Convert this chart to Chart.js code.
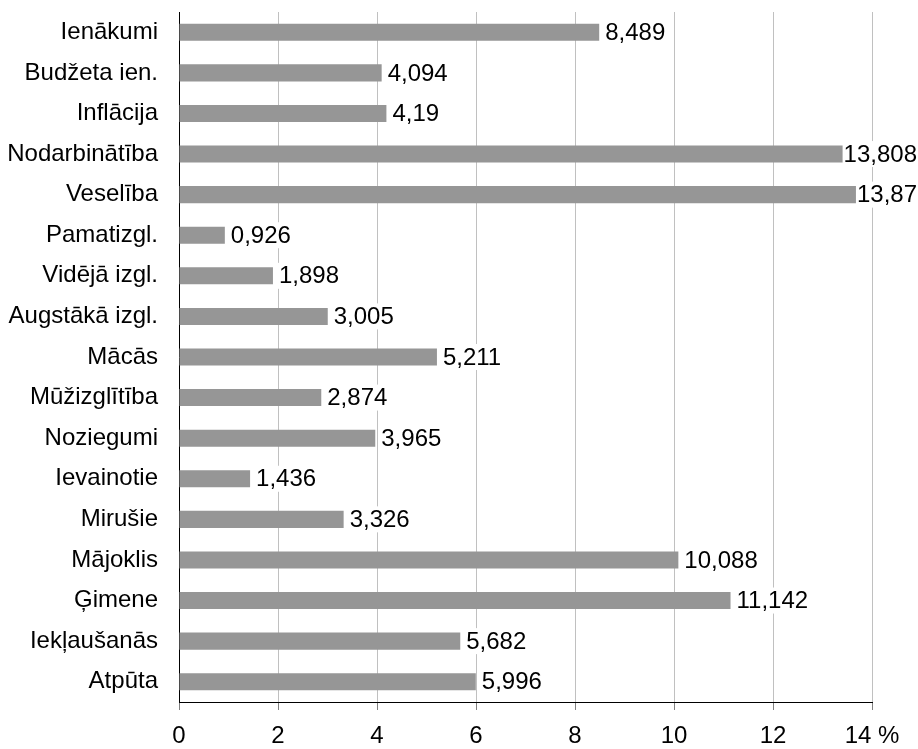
<!DOCTYPE html>
<html><head><meta charset="utf-8">
<script src="https://cdn.jsdelivr.net/npm/chart.js@4/dist/chart.umd.min.js"></script>
<style>html,body{margin:0;padding:0;background:#fff}#wrap{width:918px;height:749px}</style>
</head><body><div id="wrap"><canvas id="c" width="918" height="749"></canvas></div>
<script>
const categories = ['Ienākumi','Budžeta ien.','Inflācija','Nodarbinātība','Veselība','Pamatizgl.','Vidējā izgl.','Augstākā izgl.','Mācās','Mūžizglītība','Noziegumi','Ievainotie','Mirušie','Mājoklis','Ģimene','Iekļaušanās','Atpūta'];
const values = [8.489,4.094,4.19,13.808,13.87,0.926,1.898,3.005,5.211,2.874,3.965,1.436,3.326,10.088,11.142,5.682,5.996];
const tickLabels = ['0','2','4','6','8','10','12','14 %'];

const FONT = 'Liberation Sans, Arial, sans-serif';
const FS = 24;
const labelPlugin = {
  id: 'vals',
  afterDatasetsDraw(chart) {
    const ctx = chart.ctx;
    const meta = chart.getDatasetMeta(0);
    ctx.save();
    ctx.font = FS + 'px ' + FONT;
    ctx.textAlign = 'left';
    ctx.textBaseline = 'middle';
    meta.data.forEach((bar, i) => {
      const txt = String(values[i]).replace('.', ',');
      const w = ctx.measureText(txt).width;
      let x = bar.x + 6;
      if (x + w > chart.width - 1) x = chart.width - 1 - w;
      ctx.fillStyle = '#fff';
      ctx.fillRect(x - 1, bar.y - 13, w + 3, 26);
      ctx.fillStyle = '#000';
      ctx.fillText(txt, x, bar.y + 1);
    });
    ctx.restore();
  }
};

new Chart(document.getElementById('c'), {
  type: 'bar',
  data: { labels: categories, datasets: [{ data: values, backgroundColor: '#969696', borderWidth: 0, categoryPercentage: 1, barPercentage: 0.42 }] },
  options: {
    indexAxis: 'y',
    responsive: false,
    animation: false,
    layout: { padding: { left: 0, right: 46, top: 12, bottom: 0 } },
    plugins: { legend: { display: false }, tooltip: { enabled: false } },
    scales: {
      x: {
        min: 0, max: 14,
        ticks: { stepSize: 2, font: { family: FONT, size: FS }, color: '#000', padding: 12, maxRotation: 0,
          callback: (v, i) => tickLabels[i] },
        grid: { color: '#c0c0c0', lineWidth: 1, tickLength: 8, tickColor: '#808080', drawTicks: true },
        border: { color: '#000', width: 1 },
        afterFit(s) { s.height = 47; s.paddingLeft = 0; s.paddingRight = 0; }
      },
      y: {
        ticks: { font: { family: FONT, size: FS }, color: '#000', padding: 21, autoSkip: false },
        grid: { display: false, drawTicks: false },
        border: { color: '#000', width: 1 },
        afterFit(s) { s.width = 179; s.paddingTop = 0; s.paddingBottom = 0; }
      }
    }
  },
  plugins: [labelPlugin]
});
</script></body></html>
